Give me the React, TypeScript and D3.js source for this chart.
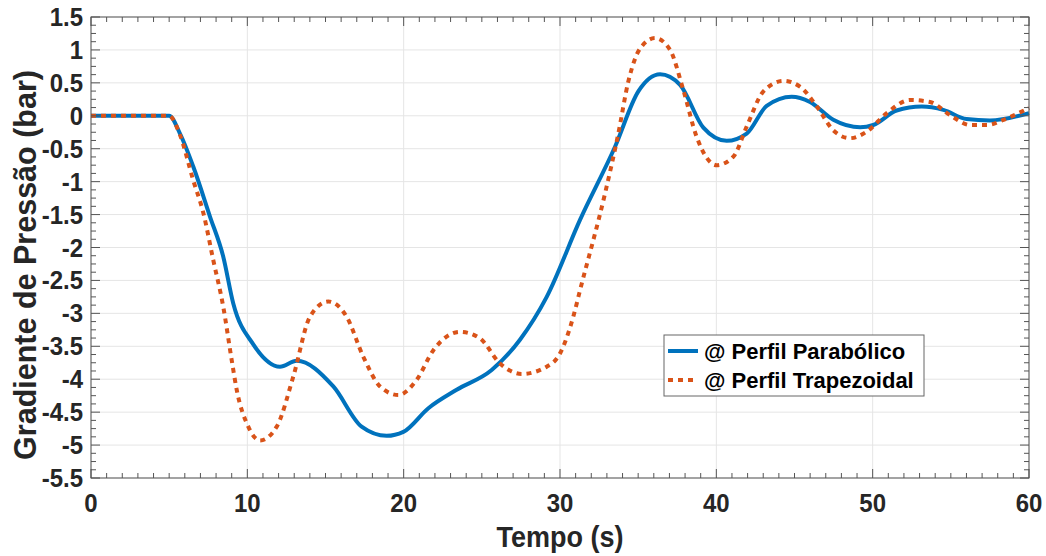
import React from "react";
import * as d3 from "d3";

// Perfil parabólico (azul)
const tempoParab = [0, 5, 5.69, 6.54, 7.61, 8.46, 9.1, 10.38, 12.09, 13.16, 15.5, 17.31, 18.91, 19.98, 21.58, 23.39, 25.63, 27.44, 29.15, 31.28, 33.52, 35.01, 36.4, 37.68, 39.17, 40.66, 41.94, 43.22, 44.82, 45.99, 47.48, 49.2, 50.04, 51.53, 53.14, 54.52, 56.01, 57.5, 60];
const gradParab = [0, 0, -0.27, -0.77, -1.53, -2.14, -2.85, -3.47, -3.81, -3.72, -4.11, -4.72, -4.86, -4.8, -4.44, -4.16, -3.86, -3.4, -2.75, -1.58, -0.47, 0.37, 0.63, 0.47, -0.18, -0.38, -0.27, 0.15, 0.29, 0.21, -0.06, -0.175, -0.14, 0.08, 0.14, 0.09, -0.05, -0.07, 0.04];

// Perfil trapezoidal (laranja)
const tempoTrap = [0, 5, 5.69, 6.54, 7.19, 7.82, 8.46, 9.0, 9.32, 10.06, 10.81, 11.88, 12.94, 14.01, 15.18, 16.35, 17.42, 18.49, 19.66, 20.83, 21.9, 23.6, 24.88, 26.16, 27.55, 29.15, 30.0, 30.85, 31.28, 32.88, 33.73, 34.37, 35.12, 36.08, 37.04, 37.89, 38.74, 40.02, 41.09, 41.94, 43.01, 44.29, 45.37, 46.43, 47.48, 48.55, 49.62, 50.9, 52.39, 53.67, 54.95, 56.23, 57.3, 58.58, 60];
const gradTrap = [0, 0, -0.29, -0.98, -1.48, -2.19, -2.9, -3.71, -4.16, -4.72, -4.93, -4.72, -3.96, -3.05, -2.82, -3.05, -3.66, -4.11, -4.24, -4.01, -3.56, -3.28, -3.38, -3.76, -3.92, -3.81, -3.61, -3.05, -2.65, -1.18, -0.27, 0.52, 1.02, 1.18, 1.0, 0.39, -0.32, -0.75, -0.62, -0.165, 0.37, 0.53, 0.44, 0.14, -0.22, -0.34, -0.24, 0.04, 0.24, 0.21, 0.01, -0.14, -0.14, -0.04, 0.12];

const xTicks = [0, 10, 20, 30, 40, 50, 60];
const yTicks = [1.5, 1, 0.5, 0, -0.5, -1, -1.5, -2, -2.5, -3, -3.5, -4, -4.5, -5, -5.5];
const legendLabels = ["@ Perfil Parabólico", "@ Perfil Trapezoidal"];

const W = 1046;
const H = 556;
const left = 91, right = 1029, top = 17, bottom = 478;
const ink = "#262626";
const font = "'Liberation Sans', Arial, sans-serif";

export default function App() {
  const x = d3.scaleLinear().domain([0, 60]).range([left, right]);
  const y = d3.scaleLinear().domain([-5.5, 1.5]).range([bottom, top]);

  const line = d3
    .line<[number, number]>()
    .x((d) => x(d[0]))
    .y((d) => y(d[1]))
    .curve(d3.curveMonotoneX);

  const parab = tempoParab.map((t, i) => [t, gradParab[i]] as [number, number]);
  const trap = tempoTrap.map((t, i) => [t, gradTrap[i]] as [number, number]);

  const xMinor = d3.range(0, 61, 1);
  const yMinor = d3.range(-5.5, 1.5001, 0.125);

  return (
    <svg width={W} height={H} style={{ position: "absolute", left: 0, top: 0, background: "#fff" }}>
      <rect x={left} y={top} width={right - left} height={bottom - top} fill="#fff" />
      {/* grid */}
      <g stroke="#e5e5e5" strokeWidth={1}>
        {xTicks.map((t) => (
          <line key={"gx" + t} x1={x(t)} x2={x(t)} y1={top} y2={bottom} />
        ))}
        {yTicks.map((t) => (
          <line key={"gy" + t} x1={left} x2={right} y1={y(t)} y2={y(t)} />
        ))}
      </g>

      {/* curves */}
      <path d={line(parab) || ""} fill="none" stroke="#0072BD" strokeWidth={4} strokeLinejoin="round" />
      <path d={line(trap) || ""} fill="none" stroke="#D95319" strokeWidth={4} strokeDasharray="5,5" />

      {/* ticks */}
      <g stroke="#555" strokeWidth={1}>
        {xMinor.map((t) => {
          const len = t % 10 === 0 ? 9 : 5;
          return (
            <g key={"xt" + t}>
              <line x1={x(t)} x2={x(t)} y1={bottom} y2={bottom - len} />
              <line x1={x(t)} x2={x(t)} y1={top} y2={top + len} />
            </g>
          );
        })}
        {yMinor.map((t) => {
          const major = Math.abs(t * 2 - Math.round(t * 2)) < 1e-6;
          const len = major ? 9 : 5;
          return (
            <g key={"yt" + t}>
              <line x1={left} x2={left + len} y1={y(t)} y2={y(t)} />
              <line x1={right} x2={right - len} y1={y(t)} y2={y(t)} />
            </g>
          );
        })}
      </g>
      <rect x={left} y={top} width={right - left} height={bottom - top} fill="none" stroke="#555" strokeWidth={1} />

      {/* tick labels */}
      <g fill={ink} fontFamily={font} fontWeight="bold" fontSize={24}>
        {xTicks.map((t) => (
          <text key={"xl" + t} transform={`translate(${x(t)},${bottom + 34}) scale(1,1.1)`} textAnchor="middle">
            {t}
          </text>
        ))}
        {yTicks.map((t) => (
          <text key={"yl" + t} transform={`translate(${left - 8},${y(t) + 9}) scale(1,1.1)`} textAnchor="end">
            {t}
          </text>
        ))}
      </g>

      {/* axis titles */}
      <text
        transform={`translate(${(left + right) / 2},${H - 9}) scale(1,1.1)`}
        textAnchor="middle"
        fill={ink}
        fontFamily={font}
        fontWeight="bold"
        fontSize={27}
      >
        Tempo (s)
      </text>
      <text
        transform={`translate(36,265) rotate(-90)`}
        textAnchor="middle"
        fill={ink}
        fontFamily={font}
        fontWeight="bold"
        fontSize={30.5}
      >
        Gradiente de Pressão (bar)
      </text>

      {/* legend */}
      <g>
        <rect x={664} y={335} width={260} height={61} fill="#fff" stroke="#666" strokeWidth={1} />
        {legendLabels.map((lab, i) => (
          <g key={lab} transform={`translate(664,${351 + i * 29})`}>
            <line
              x1={4}
              x2={34}
              y1={0}
              y2={0}
              stroke={i === 0 ? "#0072BD" : "#D95319"}
              strokeWidth={4}
              strokeDasharray={i === 0 ? undefined : "5,5"}
            />
            <text x={40} y={8} fill="#000" fontFamily={font} fontWeight="bold" fontSize={22}>
              {lab}
            </text>
          </g>
        ))}
      </g>
    </svg>
  );
}
